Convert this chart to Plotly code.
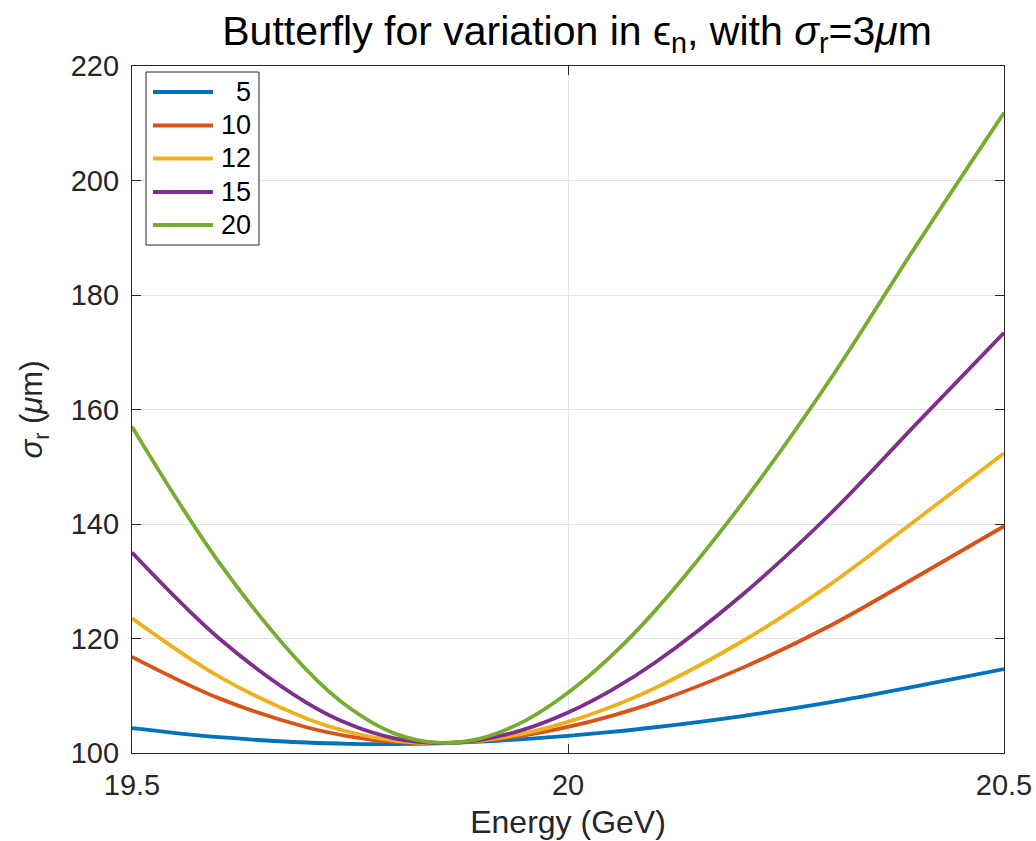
import plotly.graph_objects as go

# Beam energy (GeV)
energy = [19.5, 19.6, 19.7, 19.75, 19.8, 19.85, 19.9, 19.95, 20.0, 20.05,
          20.1, 20.2, 20.3, 20.4, 20.5]

# Normalised emittance values shown in the legend
emittance_labels = ["\u20075", "10", "12", "15", "20"]

# Spot size sigma_r (um) for each emittance
sigma_eps5 = [104.36, 102.76, 101.83, 101.61, 101.57, 101.70, 102.00, 102.43,
              103.00, 103.69, 104.50, 106.46, 108.84, 111.67, 114.66]
sigma_eps10 = [116.80, 109.54, 104.49, 102.88, 101.95, 101.73, 102.11, 103.07,
               104.55, 106.49, 108.88, 114.87, 122.18, 130.79, 139.61]
sigma_eps12 = [123.52, 113.33, 106.03, 103.62, 102.18, 101.74, 102.18, 103.44,
               105.44, 108.09, 111.36, 119.52, 129.37, 140.80, 152.36]
sigma_eps15 = [135.02, 120.00, 108.80, 104.96, 102.59, 101.75, 102.30, 104.12,
               107.07, 110.99, 115.81, 127.65, 141.66, 157.58, 173.40]
sigma_eps20 = [157.01, 133.26, 114.55, 107.81, 103.47, 101.80, 102.57, 105.57,
               110.52, 117.01, 124.87, 143.65, 165.10, 188.80, 211.83]

series = [sigma_eps5, sigma_eps10, sigma_eps12, sigma_eps15, sigma_eps20]
colors = ["#0072BD", "#D95319", "#EDB120", "#7E2F8E", "#77AC30"]

x_ticks = [19.5, 20, 20.5]
x_tick_text = ["19.5", "20", "20.5"]
y_ticks = [100, 120, 140, 160, 180, 200, 220]

FONT = "Liberation Sans, Arial, Helvetica, sans-serif"
AXIS_COLOR = "#262626"
GRID_COLOR = "#E3E3E3"
LINE_W = 3.8

W, H = 1036, 841
M_L, M_R, M_T, M_B = 132, 32, 66, 88
PLOT_W = W - M_L - M_R
PLOT_H = H - M_T - M_B


def px_to_paper_x(px):
    return (px - M_L) / PLOT_W


def px_to_paper_y(py):
    return (H - M_B - py) / PLOT_H


fig = go.Figure()
for name, values, color in zip(emittance_labels, series, colors):
    fig.add_trace(go.Scatter(
        x=energy, y=values, name=name, mode="lines", showlegend=False,
        line=dict(color=color, width=LINE_W, shape="spline", smoothing=1.0),
    ))

axis_common = dict(
    showline=True, linecolor=AXIS_COLOR, linewidth=1.2, mirror="ticks",
    ticks="inside", ticklen=9, tickwidth=1.2, tickcolor=AXIS_COLOR,
    showgrid=True, gridcolor=GRID_COLOR, gridwidth=1, zeroline=False,
    automargin=False,
    tickfont=dict(family=FONT, size=29, color=AXIS_COLOR),
)

fig.update_xaxes(
    range=[19.5, 20.5], tickvals=x_ticks, ticktext=x_tick_text,
    ticklabelstandoff=6,
    title=dict(text="Energy (GeV)", font=dict(family=FONT, size=32, color=AXIS_COLOR),
               standoff=10),
    **axis_common,
)
fig.update_yaxes(
    range=[100, 220], tickvals=y_ticks, ticklabelstandoff=6,
    title=dict(text="<i>σ</i><sub>r</sub> (<i>μ</i>m)",
               font=dict(family=FONT, size=31, color=AXIS_COLOR), standoff=18),
    **axis_common,
)

# Legend box drawn with shapes and labels
box_left, box_right, box_top, box_bottom = 146, 259, 72, 245
entry_y = [92, 125.5, 158.5, 192, 225]
line_x0, line_x1, text_x = 153, 213, 219

shapes = [dict(
    type="rect", xref="paper", yref="paper",
    x0=px_to_paper_x(box_left), x1=px_to_paper_x(box_right),
    y0=px_to_paper_y(box_bottom), y1=px_to_paper_y(box_top),
    line=dict(color=AXIS_COLOR, width=1), fillcolor="white", layer="above",
)]
annotations = []
for name, color, yc in zip(emittance_labels, colors, entry_y):
    shapes.append(dict(
        type="line", xref="paper", yref="paper",
        x0=px_to_paper_x(line_x0), x1=px_to_paper_x(line_x1),
        y0=px_to_paper_y(yc), y1=px_to_paper_y(yc),
        line=dict(color=color, width=LINE_W), layer="above",
    ))
    annotations.append(dict(
        text=name, xref="paper", yref="paper", showarrow=False,
        x=px_to_paper_x(text_x), y=px_to_paper_y(yc),
        xanchor="left", yanchor="middle",
        font=dict(family=FONT, size=27, color="black"),
    ))

fig.update_layout(
    width=W, height=H,
    margin=dict(l=M_L, r=M_R, t=M_T, b=M_B),
    paper_bgcolor="white", plot_bgcolor="white",
    title=dict(
        text="Butterfly for variation in ϵ<sub>n</sub>, with <i>σ</i><sub>r</sub>=3<i>μ</i>m",
        x=0.557, xref="container", xanchor="center",
        y=0.964, yref="container", yanchor="middle",
        font=dict(family=FONT, size=41, color="black"),
    ),
    shapes=shapes,
    annotations=annotations,
    showlegend=False,
)

fig.write_html("out.html")
